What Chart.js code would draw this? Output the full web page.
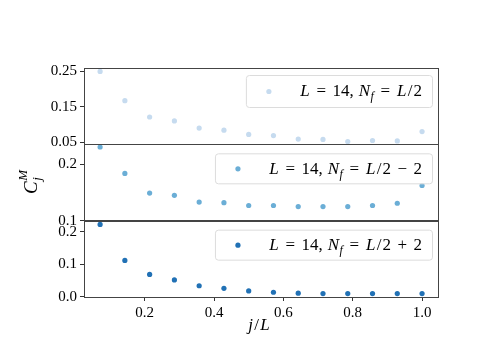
<!DOCTYPE html>
<html>
<head>
<meta charset="utf-8">
<script src="https://cdn.jsdelivr.net/npm/chart.js@4/dist/chart.umd.min.js"></script>
<style>
  html, body { margin: 0; padding: 0; background: #fff; }
  #wrap { width: 498px; height: 353px; }
</style>
</head>
<body>
<div id="wrap"><canvas id="chart"></canvas></div>
<script>
// site index j, chain length L -> x = j/L
const L = 14;
const jSites = [1, 2, 3, 4, 5, 6, 7, 8, 9, 10, 11, 12, 13, 14];

// C_j^M for the three fillings
const cHalf = [0.249, 0.167, 0.121, 0.110, 0.090, 0.084, 0.072, 0.069, 0.059, 0.058, 0.052, 0.055, 0.054, 0.080];
const cHalfMinus2 = [0.231, 0.184, 0.149, 0.145, 0.133, 0.132, 0.127, 0.127, 0.125, 0.125, 0.125, 0.127, 0.131, 0.1625];
const cHalfPlus2 = [0.223, 0.112, 0.069, 0.052, 0.034, 0.026, 0.018, 0.014, 0.011, 0.010, 0.010, 0.010, 0.010, 0.010];

const seriesLabels = ['L = 14, N_f = L/2', 'L = 14, N_f = L/2 \u2212 2', 'L = 14, N_f = L/2 + 2'];
const seriesColors = ['#c6dbef', '#6baed6', '#2171b5'];

const xTicks = [0.2, 0.4, 0.6, 0.8, 1.0];
const yTicksTop = [0.05, 0.15, 0.25];
const yTicksMid = [0.1, 0.2];
const yTicksBot = [0.0, 0.1, 0.2];

const SERIF = '"Liberation Serif", "DejaVu Serif", serif';
// TeX-ish advances (em) for a few glyphs that Times sets too narrow
const ADV = { '=': 0.78, '+': 0.78, '\u2212': 0.78, '/': 0.4, ' ': 0.27 };

function points(vals) {
	return jSites.map((j, i) => ({ x: j / L, y: vals[i] }));
}

// draw a tiny bit of TeX-like text: letters italic, _x subscript, ^x superscript
function drawMath(ctx, str, x, y, size, align, dryRun) {
	const parts = [];
	for (let i = 0; i < str.length; i++) {
		let c = str[i], kind = 'n';
		if ((c === '_' || c === '^') && i + 1 < str.length) {
			kind = c === '_' ? 'sub' : 'sup';
			c = str[++i];
		}
		parts.push({ t: c, it: /[A-Za-z]/.test(c), kind: kind });
	}
	const sizeOf = p => p.kind === 'n' ? size : Math.round(size * 0.7);
	const fontOf = p => (p.it ? 'italic ' : '') + sizeOf(p) + 'px ' + SERIF;
	let w = 0, scriptStart = null, scriptW = 0;
	const layout = [];
	parts.forEach(p => {
		ctx.font = fontOf(p);
		const gw = ctx.measureText(p.t).width;
		const pw = Math.max(gw, (ADV[p.t] || 0) * sizeOf(p)) + (p.it ? sizeOf(p) * 0.04 : 0);
		let px = w;
		if (p.kind === 'sup' && scriptStart !== null) {
			px = scriptStart;
			w = scriptStart + Math.max(scriptW, pw);
		} else {
			if (p.kind === 'sub') { scriptStart = w; scriptW = pw; } else { scriptStart = null; }
			w += pw;
		}
		layout.push({ p: p, x: px + (pw - gw) / 2 });
	});
	if (dryRun) return w;
	const x0 = align === 'right' ? x - w : align === 'center' ? x - w / 2 : x;
	ctx.textBaseline = 'middle';
	ctx.textAlign = 'left';
	layout.forEach(o => {
		ctx.font = fontOf(o.p);
		const dy = o.p.kind === 'sub' ? size * 0.3 : o.p.kind === 'sup' ? -size * 0.42 : 0;
		ctx.fillText(o.p.t, x0 + o.x, y + dy);
	});
	return w;
}

const panelIds = ['yTop', 'yMid', 'yBot'];

const decorations = {
	id: 'decorations',
	afterDatasetsDraw(chart) {
		const ctx = chart.ctx;
		const area = chart.chartArea;
		ctx.save();
		// panel frames
		ctx.strokeStyle = '#444';
		ctx.lineWidth = 1;
		panelIds.forEach(id => {
			const s = chart.scales[id];
			ctx.strokeRect(Math.round(area.left) + 0.5, Math.round(s.top) + 0.5,
				Math.round(area.right - area.left), Math.round(s.bottom - s.top));
		});
		// legends, one per panel
		panelIds.forEach((id, k) => {
			const s = chart.scales[id];
			const right = area.right - 6;
			const top = s.top + (k === 0 ? 7 : 9);
			const h = k === 0 ? 32 : 30;
			const tw = drawMath(ctx, seriesLabels[k], 0, 0, 17, 'left', true);
			const textRight = right - 10;
			const left = textRight - tw - 54;
			ctx.beginPath();
			ctx.roundRect(left + 0.5, top + 0.5, right - left, h, 3);
			ctx.fillStyle = 'rgba(255,255,255,0.8)';
			ctx.fill();
			ctx.strokeStyle = '#dcdcdc';
			ctx.stroke();
			ctx.beginPath();
			ctx.arc(textRight - tw - 31, top + h / 2 + 0.5, 2.6, 0, Math.PI * 2);
			ctx.fillStyle = seriesColors[k];
			ctx.fill();
			ctx.fillStyle = '#000';
			drawMath(ctx, seriesLabels[k], textRight, top + h / 2 + 1, 17, 'right');
		});
		// axis titles
		ctx.fillStyle = '#000';
		drawMath(ctx, 'j/L', (area.left + area.right) / 2 - 2, 326, 17, 'center');
		ctx.translate(32, 182);
		ctx.rotate(-Math.PI / 2);
		drawMath(ctx, 'C_j^M', 0, 0, 19, 'center');
		ctx.restore();
	}
};

function yScale(min, max, ticks, digits) {
	return {
		type: 'linear',
		position: 'left',
		stack: 'panels',
		stackWeight: 1,
		min: min,
		max: max,
		afterBuildTicks: s => { s.ticks = ticks.map(v => ({ value: v })); },
		afterFit: s => { s.width = 84; },
		border: { display: false },
		grid: { drawOnChartArea: false, drawTicks: true, tickLength: 4, color: '#333' },
		ticks: {
			font: { family: SERIF, size: 15 },
			color: '#000',
			padding: 3,
			callback: v => Number(v).toFixed(digits)
		}
	};
}

new Chart(document.getElementById('chart'), {
	type: 'scatter',
	data: {
		datasets: [
			{ label: seriesLabels[0], data: points(cHalf), yAxisID: 'yTop', backgroundColor: seriesColors[0], borderWidth: 0, pointRadius: 2.6 },
			{ label: seriesLabels[1], data: points(cHalfMinus2), yAxisID: 'yMid', backgroundColor: seriesColors[1], borderWidth: 0, pointRadius: 2.6 },
			{ label: seriesLabels[2], data: points(cHalfPlus2), yAxisID: 'yBot', backgroundColor: seriesColors[2], borderWidth: 0, pointRadius: 2.6 }
		]
	},
	options: {
		responsive: true,
		maintainAspectRatio: false,
		animation: false,
		layout: { padding: { top: 68, right: 60, left: 0, bottom: 0 } },
		plugins: { legend: { display: false }, tooltip: { enabled: false } },
		scales: {
			x: {
				type: 'linear',
				min: 0.025,
				max: 1.046,
				afterBuildTicks: s => { s.ticks = xTicks.map(v => ({ value: v })); },
				afterFit: s => { s.height = 56; },
				border: { display: false },
				grid: { drawOnChartArea: false, drawTicks: true, tickLength: 4, color: '#333' },
				ticks: {
					font: { family: SERIF, size: 15 },
					color: '#000',
					padding: 3,
					maxRotation: 0,
					callback: v => Number(v).toFixed(1)
				}
			},
			yBot: yScale(-0.0007, 0.2347, yTicksBot, 1),
			yMid: yScale(0.1, 0.2357, yTicksMid, 1),
			yTop: yScale(0.0443, 0.2586, yTicksTop, 2)
		}
	},
	plugins: [decorations]
});
</script>
</body>
</html>
